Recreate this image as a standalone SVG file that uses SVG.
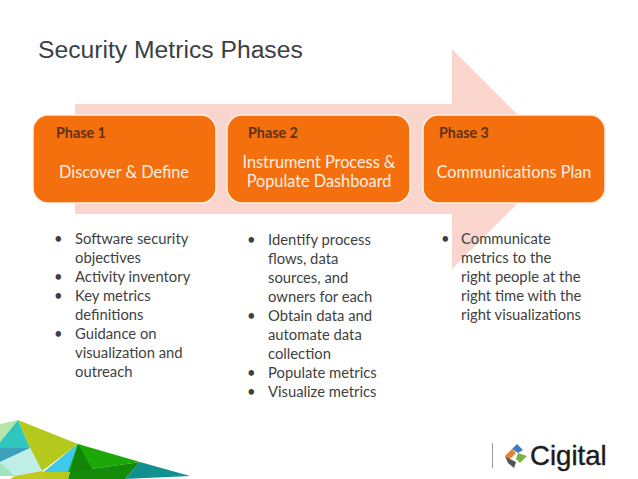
<svg xmlns="http://www.w3.org/2000/svg" width="638" height="479" viewBox="0 0 638 479">
<style>
text{font-family:Lato,"Open Sans","Liberation Sans",sans-serif}
.box{fill:#f4700f;stroke:#fdf0e4;stroke-width:1.5}
.ph{font-size:14.3px;font-weight:700;fill:#5c3115}
.ttl{font-size:16.3px;fill:#fdeee0;text-anchor:middle}
.b{font-size:14.8px;fill:#3f3f3f}
</style>
<rect width="638" height="479" fill="#fff"/>
<text x="38" y="58" style="font-family:'Liberation Sans',sans-serif;font-size:24.7px;fill:#3b3f45">Security Metrics Phases</text>
<g id="connectors"><polygon id="arrow" points="75,104 452,104 452,49 562,159 452,269 452,214 75,214" fill="#f9d5cd"/></g>
<g id="phase1">
<rect class="box" x="33" y="115" width="183" height="88" rx="15"/>
<text class="ph" x="56" y="138">Phase 1</text>
<text class="ttl" x="124" y="178">Discover &amp; Define</text>
<text class="b"><tspan x="54" y="244">•</tspan><tspan x="75" y="244">Software security</tspan><tspan x="75" y="263">objectives</tspan><tspan x="54" y="282">•</tspan><tspan x="75" y="282">Activity inventory</tspan><tspan x="54" y="301">•</tspan><tspan x="75" y="301">Key metrics</tspan><tspan x="75" y="320">definitions</tspan><tspan x="54" y="339">•</tspan><tspan x="75" y="339">Guidance on</tspan><tspan x="75" y="358">visualization and</tspan><tspan x="75" y="377">outreach</tspan></text>
</g>
<g id="phase2">
<rect class="box" x="227" y="115" width="183" height="88" rx="15"/>
<text class="ph" x="248" y="138">Phase 2</text>
<text class="ttl" x="319" y="168">Instrument Process &amp;</text>
<text class="ttl" x="319" y="187">Populate Dashboard</text>
<text class="b"><tspan x="247" y="245">•</tspan><tspan x="268" y="245">Identify process</tspan><tspan x="268" y="264">flows, data</tspan><tspan x="268" y="283">sources, and</tspan><tspan x="268" y="302">owners for each</tspan><tspan x="247" y="321">•</tspan><tspan x="268" y="321">Obtain data and</tspan><tspan x="268" y="340">automate data</tspan><tspan x="268" y="359">collection</tspan><tspan x="247" y="378">•</tspan><tspan x="268" y="378">Populate metrics</tspan><tspan x="247" y="397">•</tspan><tspan x="268" y="397">Visualize metrics</tspan></text>
</g>
<g id="phase3">
<rect class="box" x="423" y="115" width="182" height="88" rx="15"/>
<text class="ph" x="439" y="138">Phase 3</text>
<text class="ttl" x="514" y="178">Communications Plan</text>
<text class="b"><tspan x="441" y="244">•</tspan><tspan x="461" y="244">Communicate</tspan><tspan x="461" y="263">metrics to the</tspan><tspan x="461" y="282">right people at the</tspan><tspan x="461" y="301">right time with the</tspan><tspan x="461" y="320">right visualizations</tspan></text>
</g>
<g id="corner-art">
<polygon points="0,424 18,420 0,442" fill="#b5e6a8"/>
<polygon points="18,420 30,448 0,462 0,442" fill="#2fc6c0"/>
<polygon points="0,448 30,448 0,462" fill="#3aa0bc"/>
<polygon points="18,420 78,444 42,471 30,448" fill="#b5c91d"/>
<polygon points="30,448 42,471 15,476 0,462" fill="#bfeee6"/>
<polygon points="0,462 15,476 0,476" fill="#9fe3c0"/>
<polygon points="15,476 42,471 60,479 10,479" fill="#c3c81f"/>
<polygon points="78,444 140,462 70,472 44,472" fill="#1ca808"/>
<polygon points="78,444 44,472 68,472" fill="#3fc8ee"/>
<polygon points="78,444 96,476 68,479" fill="#128506"/>
<polygon points="140,462 125,479 70,479 70,472" fill="#138a08"/>
<polygon points="140,462 190,476 125,479" fill="#11908f"/>
<polygon points="44,472 70,472 68,479 45,479" fill="#b6ca1c"/>
</g>
<g id="logo">
<rect x="492" y="443" width="1" height="25" fill="#999"/>
<polygon points="505,456 512,449 516,453 510,459" fill="#e8812a"/>
<polygon points="512,449 517,444 523,450 518,453" fill="#3f7fc0"/>
<polygon points="518,453 527,456 520,463 516,459" fill="#7cb342"/>
<polygon points="505,456 510,459 516,462 514,468 508,463" fill="#555"/>
<text x="530" y="465" style="font-family:'Liberation Sans',sans-serif;font-size:27.6px;fill:#1c1c1c;stroke:#1c1c1c;stroke-width:.4">Cigital</text>
</g>
</svg>
